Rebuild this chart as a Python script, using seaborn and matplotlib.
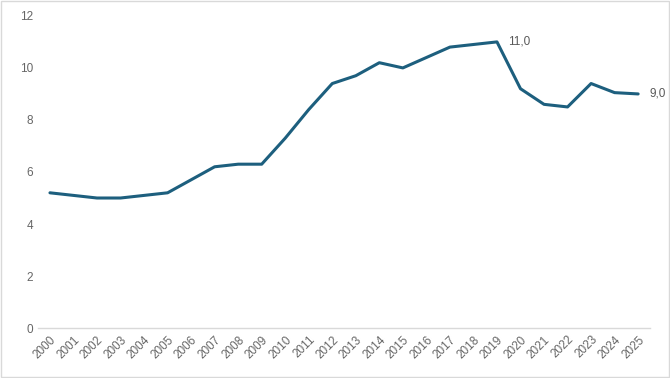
import matplotlib.pyplot as plt
import seaborn as sns
import pandas as pd

# Datos
years = list(range(2000, 2026))
values = [5.2, 5.1, 5.0, 5.0, 5.1, 5.2, 5.7, 6.2, 6.3, 6.3, 7.3, 8.4, 9.4,
          9.7, 10.2, 10.0, 10.4, 10.8, 10.9, 11.0, 9.2, 8.6, 8.5, 9.4, 9.05, 9.0]
labels = {2019: "11,0", 2025: "9,0"}

df = pd.DataFrame({"year": years, "value": values})

sns.set_style("white")
plt.rcParams["font.family"] = ["Liberation Sans", "DejaVu Sans"]
fig = plt.figure(figsize=(6.7, 3.78), dpi=100)
ax = fig.add_axes([0.057, 0.132, 0.913, 0.826])

sns.lineplot(data=df, x="year", y="value", color="#1d5f7e", linewidth=2.2, ax=ax)

for yr, txt in labels.items():
    v = values[years.index(yr)]
    ax.annotate(txt, (yr, v), xytext=(8, 0), textcoords="offset points",
                va="center", ha="left", fontsize=8.5, color="#595959")

ax.set_xlim(1999.5, 2025.5)
ax.set_ylim(0, 12)
ax.set_yticks(range(0, 13, 2))
ax.set_xticks(years)
ax.set_xticklabels([str(y) for y in years], rotation=45, ha="right",
                   rotation_mode="anchor")
ax.tick_params(axis="both", labelsize=8.5, colors="#666666", length=0)
ax.tick_params(axis="x", pad=4)
ax.set_xlabel("")
ax.set_ylabel("")

for side in ["top", "right", "left"]:
    ax.spines[side].set_visible(False)
ax.spines["bottom"].set_color("#d9d9d9")
ax.spines["bottom"].set_linewidth(1)

# borde de la figura
fig.patches.append(plt.Rectangle((0.002, 0.003), 0.996, 0.994, transform=fig.transFigure,
                                 fill=False, edgecolor="#d9d9d9", linewidth=1))

fig.savefig("out.png", dpi=100)
